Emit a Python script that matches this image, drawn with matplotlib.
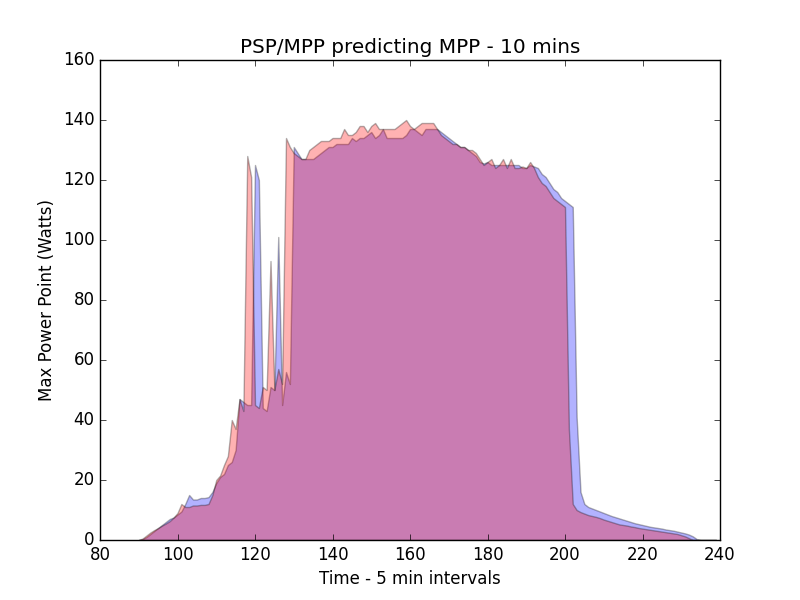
import numpy as np
import matplotlib
matplotlib.use('Agg')
import matplotlib.pyplot as plt

# time index (5 min steps)
time_idx = np.arange(90, 240)

# actual MPP (blue)
mpp_actual = [
    0, 0.3, 1, 2, 3, 4, 5, 6, 7, 7.5,
    8.5, 9.5, 12, 15, 13.5, 13.5, 14, 14, 14.3, 16,
    19, 21, 22, 25, 26, 30, 47, 46, 45, 45,
    125, 120, 44, 43, 51, 50, 101, 45, 56, 52,
    131, 129, 127, 127, 127, 127, 128, 129, 130, 131,
    131, 132, 132, 132, 132, 134, 133, 134, 134, 135,
    136, 134, 135, 137, 134, 134, 134, 134, 134, 135,
    137, 137, 136, 135, 137, 137, 137, 137, 136, 135,
    134, 133, 132, 131, 131, 130, 129, 128, 126, 125.5,
    126, 125, 125, 125, 125, 125, 125, 125, 125, 124,
    124, 125, 124.5, 124, 122, 121, 119, 117, 116, 114,
    113, 112, 111, 41, 16, 12, 11, 10.5, 10, 9.5,
    9, 8.5, 8, 7.6, 7.2, 6.8, 6.4, 6, 5.6, 5.3,
    5, 4.7, 4.4, 4.2, 4, 3.8, 3.5, 3.3, 3.1, 2.8,
    2.5, 2.2, 1.8, 1.2, 0.3, 0, 0, 0, 0, 0,
]

# PSP/MPP prediction (red)
mpp_pred = [
    0, 0.5, 1.5, 2.5, 3.3, 4, 4.8, 5.5, 6.3, 7.5,
    9, 12, 11, 11, 11.5, 11.5, 11.7, 11.7, 12, 15,
    20, 21.5, 25, 28, 40, 37, 47, 43, 128, 121,
    45, 44, 51, 50, 93, 50, 57, 52, 134, 131,
    129, 128, 127, 127, 130, 131, 132, 133, 133, 133,
    134, 134, 134, 137, 135, 135, 136, 138, 138, 136,
    138, 139, 137, 137, 137, 137, 137, 138, 139, 140,
    138, 137, 138, 139, 139, 139, 139, 137, 135, 134,
    133, 132, 132, 131, 131, 130, 130, 129, 127, 125,
    126, 127, 124, 125, 127, 124, 127, 124, 124, 124.5,
    124, 126, 124, 121, 119, 118, 116, 114, 113, 112,
    111, 37, 12, 10, 9.3, 8.8, 8.3, 8, 7.7, 7.3,
    6.8, 6.4, 6, 5.6, 5.2, 5, 4.8, 4.5, 4.3, 4,
    3.8, 3.6, 3.4, 3.2, 3, 2.8, 2.6, 2.4, 2.2, 2,
    1.6, 1.2, 0.6, 0, 0, 0, 0, 0, 0, 0,
]

plt.style.use('classic')
fig = plt.figure(figsize=(8, 6), dpi=100)
ax = fig.add_subplot(111)

ax.fill_between(time_idx, 0, mpp_actual, facecolor='b', edgecolor='k', alpha=0.3, linewidth=1)
ax.fill_between(time_idx, 0, mpp_pred, facecolor='r', edgecolor='k', alpha=0.3, linewidth=1)

ax.set_xlim(80, 240)
ax.set_ylim(0, 160)
ax.set_title('PSP/MPP predicting MPP - 10 mins')
ax.set_xlabel('Time - 5 min intervals')
ax.set_ylabel('Max Power Point (Watts)')

fig.savefig('out.png', dpi=100, facecolor='white')
